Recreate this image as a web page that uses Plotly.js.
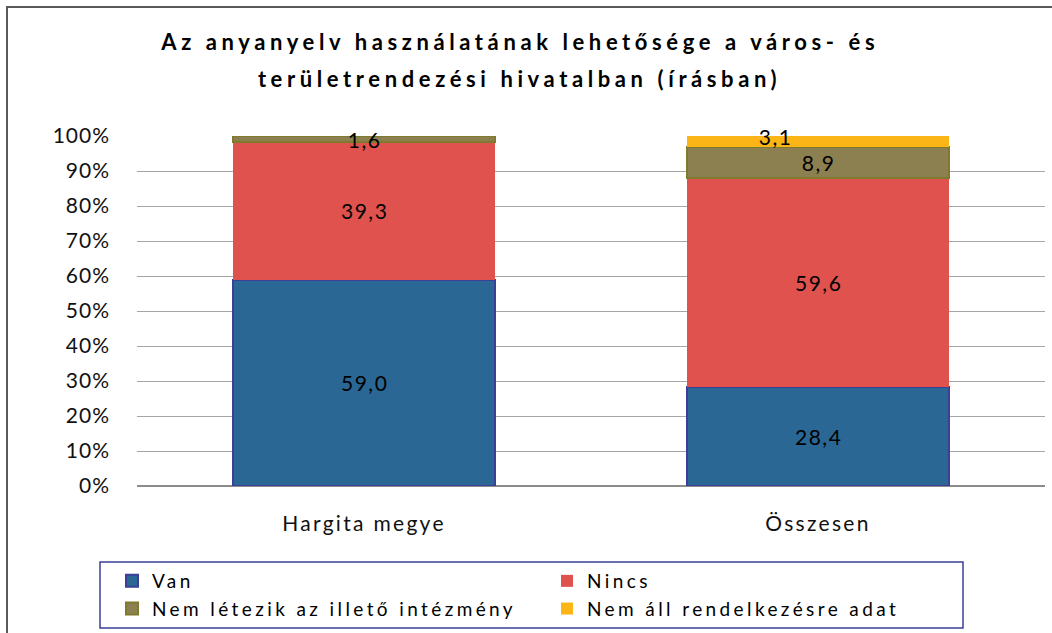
<!DOCTYPE html>
<html>
<head>
<meta charset="utf-8">
<script src="https://cdn.plot.ly/plotly-3.0.1.min.js"></script>
<style>
html,body{margin:0;padding:0;background:#fff;}
#chart{width:1052px;height:633px;}
#chart .ytick text{letter-spacing:1px;}
#chart .xtick text{letter-spacing:2.3px;}
#chart .legendtext{letter-spacing:3.4px;}
#chart .annotation text{letter-spacing:1.5px;}
#chart .annotation[data-index="0"] text,
#chart .annotation[data-index="1"] text{letter-spacing:4.6px;}
</style>
</head>
<body>
<div id="chart"></div>
<script>
const categories = ["Hargita megye", "Összesen"];
const seriesNames = ["Van", "Nincs", "Nem létezik az illető intézmény", "Nem áll rendelkezésre adat"];
const van = [59.0, 28.4];
const nincs = [39.3, 59.6];
const nemLetezik = [1.6, 8.9];
const nemAll = [0, 3.1];
const titleLines = ["Az anyanyelv használatának lehetősége a város- és", "területrendezési hivatalban (írásban)"];
const yTickVals = [0, 10, 20, 30, 40, 50, 60, 70, 80, 90, 100];
const yTickText = ["0%", "10%", "20%", "30%", "40%", "50%", "60%", "70%", "80%", "90%", "100%"];

const seriesValues = [van, nincs, nemLetezik, nemAll];
const colors = ["#2A6795", "#DF524E", "#8C8050", "#FBB517"];
const lineColors = ["#3B3F98", "#DF524E", "#7E7B2E", "#FBB517"];
const lineWidths = [2, 0, 2, 0];
const FONT = "Lato, 'Open Sans', sans-serif";

const traces = seriesValues.map((vals, i) => ({
  type: "bar",
  name: seriesNames[i],
  x: categories,
  y: vals,
  marker: {color: colors[i], line: {color: lineColors[i], width: lineWidths[i]}},
  hoverinfo: "none"
}));

const fmt = v => v.toFixed(1).replace(".", ",");
const annotations = [
  {xref: "paper", yref: "paper", x: 0.4218, y: 1.2686, xanchor: "center", yanchor: "middle",
   text: "<b>" + titleLines[0] + "</b>", showarrow: false, font: {family: FONT, size: 22, color: "#000"}},
  {xref: "paper", yref: "paper", x: 0.4218, y: 1.1657, xanchor: "center", yanchor: "middle",
   text: "<b>" + titleLines[1] + "</b>", showarrow: false, font: {family: FONT, size: 22, color: "#000"}}
];
categories.forEach((c, ci) => {
  let cum = 0;
  seriesValues.forEach((vals, si) => {
    const v = vals[ci];
    if (v > 0) {
      const a = {
        x: c, y: cum + v / 2, xref: "x", yref: "y",
        text: fmt(v), showarrow: false,
        font: {family: FONT, size: 21, color: "#000"}
      };
      if (si === 3) { a.xshift = -43; a.yshift = 5; }
      annotations.push(a);
    }
    cum += v;
  });
});

const layout = {
  width: 1052, height: 633,
  margin: {l: 137, r: 7, t: 136, b: 147, autoexpand: false},
  paper_bgcolor: "#fff", plot_bgcolor: "#fff",
  barmode: "stack",
  bargap: 0.425,
  font: {family: FONT, size: 21, color: "#111"},
  xaxis: {
    type: "category",
    range: [-0.5, 1.5],
    showgrid: false, showline: false, zeroline: false,
    ticks: "", tickfont: {family: FONT, size: 21, color: "#111"},
    ticklabelstandoff: 23
  },
  yaxis: {
    range: [0, 100],
    tickvals: yTickVals, ticktext: yTickText,
    showgrid: true, gridcolor: "#A6A6A6", gridwidth: 1,
    zeroline: true, zerolinecolor: "#8C8C8C", zerolinewidth: 1.5,
    showline: false, ticks: "",
    tickfont: {family: FONT, size: 21, color: "#111"},
    ticklabelstandoff: 26
  },
  showlegend: true,
  legend: {
    orientation: "h",
    x: (112 - 137) / 908, xanchor: "left",
    y: (486 - 562) / 350, yanchor: "top",
    entrywidth: 390, entrywidthmode: "pixels",
    borderwidth: 0, bgcolor: "rgba(0,0,0,0)",
    font: {family: FONT, size: 19, color: "#000"},
    traceorder: "normal",
    itemclick: false, itemdoubleclick: false,
    tracegroupgap: 0
  },
  annotations: annotations,
  shapes: [
    {
      type: "rect", xref: "paper", yref: "paper",
      x0: (7 - 137) / 908, x1: 1.05, y0: -0.6, y1: (486 - 7) / 350,
      line: {color: "#595959", width: 2}, fillcolor: "rgba(0,0,0,0)", layer: "below"
    },
    {
      type: "rect", xref: "paper", yref: "paper",
      x0: (100 - 137) / 908, x1: (963 - 137) / 908, y0: (486 - 628) / 350, y1: (486 - 562) / 350,
      line: {color: "#3B3F98", width: 1.5}, fillcolor: "rgba(0,0,0,0)", layer: "below"
    }
  ]
};

Plotly.newPlot("chart", traces, layout, {displayModeBar: false, staticPlot: true});
</script>
</body>
</html>
